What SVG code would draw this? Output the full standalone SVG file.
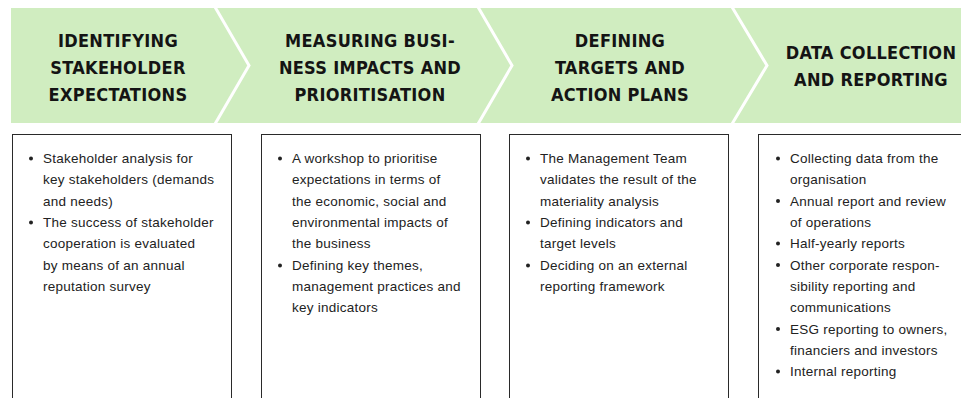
<svg xmlns="http://www.w3.org/2000/svg" width="961" height="398" viewBox="0 0 961 398">
<style>
.band{fill:#d0edc0}
.sep{fill:none;stroke:#ffffff;stroke-width:3}
.hd{font-family:"DejaVu Sans Condensed","DejaVu Sans",sans-serif;font-weight:bold;font-size:18px;fill:#141414;text-anchor:middle;letter-spacing:0.3px}
.box{fill:#ffffff;stroke:#2a2a2a;stroke-width:1}
.bt{font-family:"Liberation Sans",Arial,sans-serif;font-size:13.5px;fill:#222222;letter-spacing:0.25px}
.dot{fill:#222222}
</style>
<rect class="band" x="11" y="8" width="950" height="115"/>
<g id="separators">
<polyline class="sep" points="215,7 249,65.5 215,124"/>
<polyline class="sep" points="478,7 512,65.5 478,124"/>
<polyline class="sep" points="732,7 767,65.5 732,124"/>
</g>
<g id="step1">
<text class="hd"><tspan x="118" y="47">IDENTIFYING</tspan><tspan x="118" y="74">STAKEHOLDER</tspan><tspan x="118" y="101">EXPECTATIONS</tspan></text>
</g>
<g id="step2">
<text class="hd"><tspan x="370" y="47">MEASURING BUSI-</tspan><tspan x="370" y="74">NESS IMPACTS AND</tspan><tspan x="370" y="101">PRIORITISATION</tspan></text>
</g>
<g id="step3">
<text class="hd"><tspan x="620" y="47">DEFINING</tspan><tspan x="620" y="74">TARGETS AND</tspan><tspan x="620" y="101">ACTION PLANS</tspan></text>
</g>
<g id="step4">
<text class="hd"><tspan x="871" y="59">DATA COLLECTION</tspan><tspan x="871" y="86">AND REPORTING</tspan></text>
</g>
<g id="box1">
<rect class="box" x="12.5" y="134.5" width="219" height="280"/>
<circle class="dot" cx="31" cy="158.5" r="2"/>
<circle class="dot" cx="31" cy="222.5" r="2"/>
<text class="bt"><tspan x="43" y="163">Stakeholder analysis for</tspan><tspan x="43" y="184.3">key stakeholders (demands</tspan><tspan x="43" y="205.6">and needs)</tspan><tspan x="43" y="227">The success of stakeholder</tspan><tspan x="43" y="248.3">cooperation is evaluated</tspan><tspan x="43" y="269.6">by means of an annual</tspan><tspan x="43" y="291">reputation survey</tspan></text>
</g>
<g id="box2">
<rect class="box" x="261.5" y="134.5" width="219" height="280"/>
<circle class="dot" cx="280" cy="158.5" r="2"/>
<circle class="dot" cx="280" cy="265.5" r="2"/>
<text class="bt"><tspan x="292" y="163">A workshop to prioritise</tspan><tspan x="292" y="184.3">expectations in terms of</tspan><tspan x="292" y="205.6">the economic, social and</tspan><tspan x="292" y="227">environmental impacts of</tspan><tspan x="292" y="248.3">the business</tspan><tspan x="292" y="269.6">Defining key themes,</tspan><tspan x="292" y="291">management practices and</tspan><tspan x="292" y="312.3">key indicators</tspan></text>
</g>
<g id="box3">
<rect class="box" x="509.5" y="134.5" width="219" height="280"/>
<circle class="dot" cx="528" cy="158.5" r="2"/>
<circle class="dot" cx="528" cy="222.5" r="2"/>
<circle class="dot" cx="528" cy="265.5" r="2"/>
<text class="bt"><tspan x="540" y="163">The Management Team</tspan><tspan x="540" y="184.3">validates the result of the</tspan><tspan x="540" y="205.6">materiality analysis</tspan><tspan x="540" y="227">Defining indicators and</tspan><tspan x="540" y="248.3">target levels</tspan><tspan x="540" y="269.6">Deciding on an external</tspan><tspan x="540" y="291">reporting framework</tspan></text>
</g>
<g id="box4">
<rect class="box" x="758.5" y="134.5" width="230" height="280"/>
<circle class="dot" cx="778" cy="158.5" r="2"/>
<circle class="dot" cx="778" cy="201" r="2"/>
<circle class="dot" cx="778" cy="243.5" r="2"/>
<circle class="dot" cx="778" cy="265" r="2"/>
<circle class="dot" cx="778" cy="329" r="2"/>
<circle class="dot" cx="778" cy="371.5" r="2"/>
<text class="bt"><tspan x="790" y="163">Collecting data from the</tspan><tspan x="790" y="184.3">organisation</tspan><tspan x="790" y="205.6">Annual report and review</tspan><tspan x="790" y="227">of operations</tspan><tspan x="790" y="248.3">Half-yearly reports</tspan><tspan x="790" y="269.6">Other corporate respon-</tspan><tspan x="790" y="291">sibility reporting and</tspan><tspan x="790" y="312.3">communications</tspan><tspan x="790" y="333.6">ESG reporting to owners,</tspan><tspan x="790" y="355">financiers and investors</tspan><tspan x="790" y="376.3">Internal reporting</tspan></text>
</g>
</svg>
